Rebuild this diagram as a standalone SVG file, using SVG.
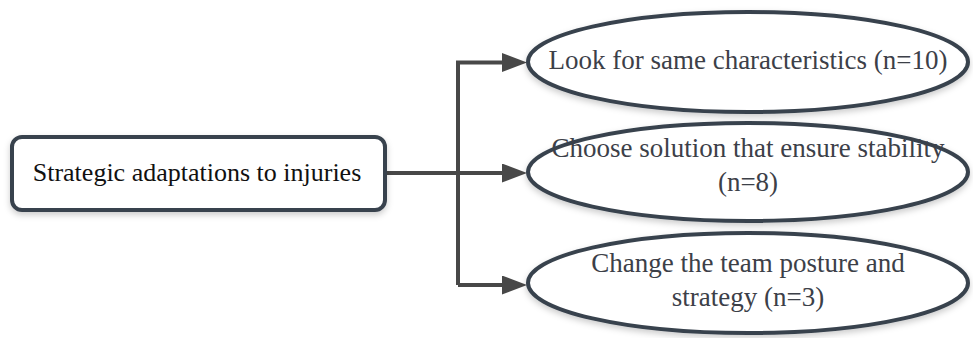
<svg xmlns="http://www.w3.org/2000/svg" width="973" height="338" viewBox="0 0 973 338">
<defs>
<filter id="sh" x="-10%" y="-20%" width="120%" height="150%">
<feDropShadow dx="0" dy="3" stdDeviation="3" flood-color="#000" flood-opacity="0.2"/>
</filter>
<marker id="ah" markerWidth="26" markerHeight="20" refX="1" refY="9.5" orient="auto" markerUnits="userSpaceOnUse">
<path d="M0,0 L25,9.5 L0,19 Z" fill="#484848"/>
</marker>
</defs>
<style>
.node{fill:#fff;stroke:#39434e;stroke-width:4;filter:url(#sh)}
text{font-family:'Liberation Serif','Times New Roman',serif;font-size:27px;text-anchor:middle;fill:#3c4048}
.tl{fill:#111;font-size:26px}
.c{fill:none;stroke:#484848;stroke-width:4}
</style>
<g id="connectors">
<path class="c" d="M385,173 L458,173"/>
<path class="c" d="M458,285 L458,62.5 L503,62.5" marker-end="url(#ah)"/>
<path class="c" d="M458,173 L503,173" marker-end="url(#ah)"/>
<path class="c" d="M458,285 L503,285" marker-end="url(#ah)"/>
</g>
<g id="n0">
<rect class="node" x="12" y="137" width="373" height="73" rx="10"/>
<text class="tl" x="197" y="181">Strategic adaptations to injuries</text>
</g>
<g id="n1">
<ellipse class="node" cx="748" cy="62" rx="220" ry="50"/>
<text x="748" y="69">Look for same characteristics (n=10)</text>
</g>
<g id="n2">
<ellipse class="node" cx="748" cy="172" rx="220" ry="49"/>
<text x="748" y="157">Choose solution that ensure stability</text>
<text x="748" y="191">(n=8)</text>
</g>
<g id="n3">
<ellipse class="node" cx="748" cy="283" rx="220" ry="50"/>
<text x="748" y="272">Change the team posture and</text>
<text x="748" y="306">strategy (n=3)</text>
</g>
</svg>
